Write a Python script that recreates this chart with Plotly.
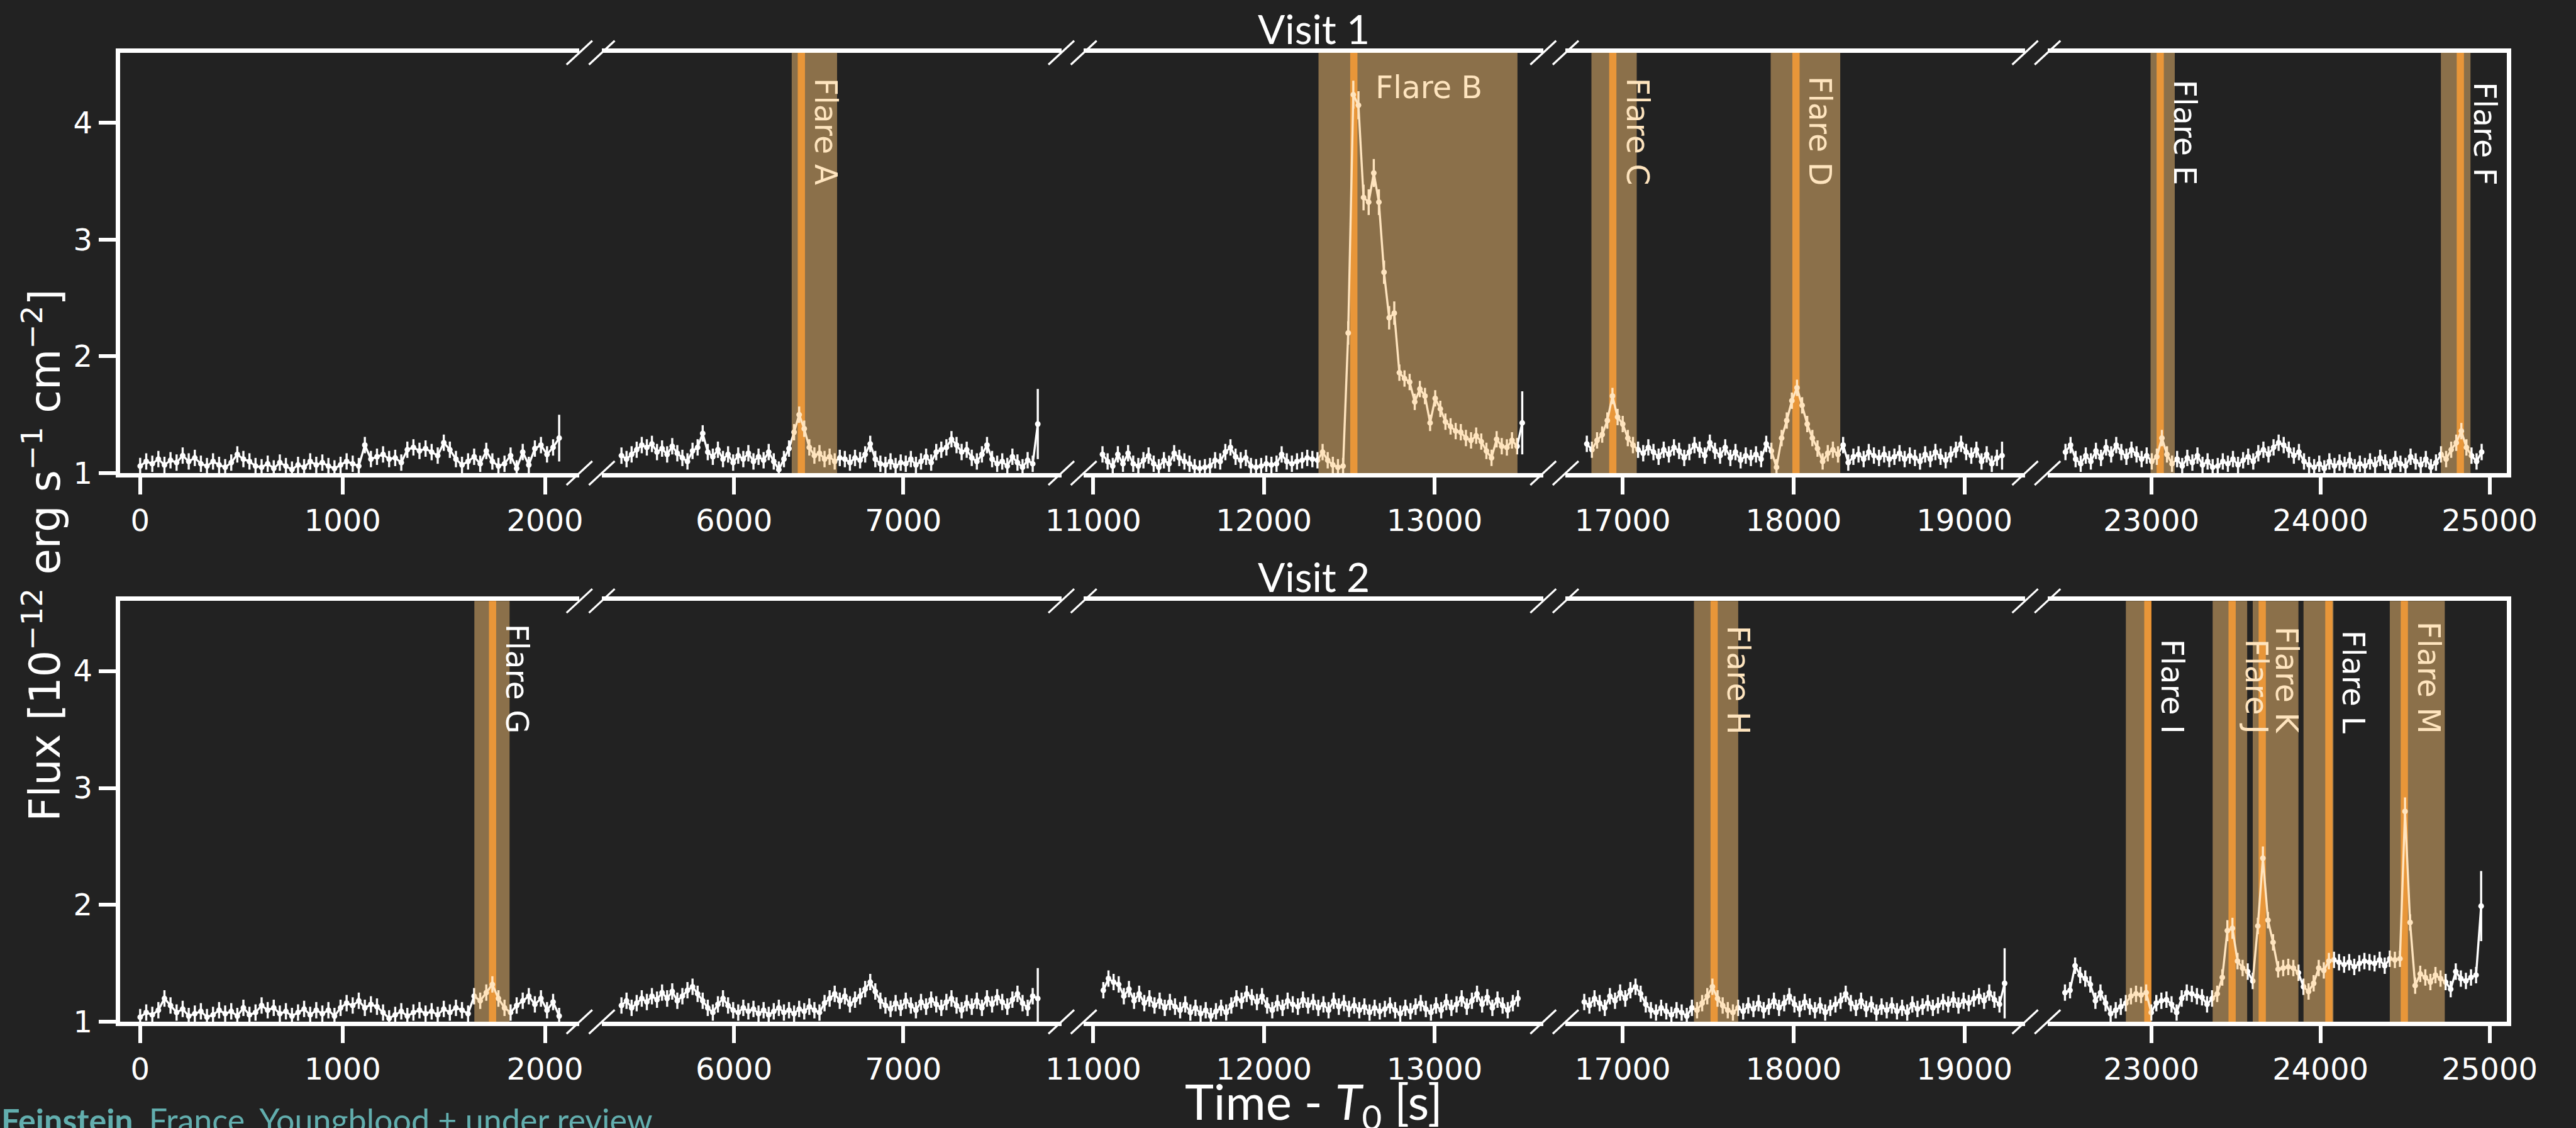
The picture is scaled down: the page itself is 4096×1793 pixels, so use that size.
import plotly.graph_objects as go

# ---------------- figure geometry (reference px, scaled by S) ----------------
W, H = 4096, 1793
S = 0.891
BG = "#222222"

# ---------------- data ----------------
cadence = 30.0

col_ranges = [[-100, 2170], [5219, 7934], [10944, 13637], [16666, 19355], [22387, 25103]]
col_ticks = [[0, 1000, 2000], [6000, 7000], [11000, 12000, 13000],
             [17000, 18000, 19000], [23000, 24000, 25000]]
y_ticks = [1, 2, 3, 4]
visit_titles = ["Visit 1", "Visit 2"]

# Visit 1
v1p1_start = 0
v1p1_flux = [1.06, 1.10, 1.08, 1.12, 1.07, 1.11, 1.09, 1.15, 1.10, 1.13,
             1.08, 1.06, 1.10, 1.07, 1.05, 1.09, 1.16, 1.12, 1.10, 1.06,
             1.05, 1.08, 1.04, 1.09, 1.06, 1.03, 1.07, 1.05, 1.10, 1.07,
             1.09, 1.06, 1.04, 1.07, 1.10, 1.08, 1.06, 1.24, 1.12, 1.14,
             1.16, 1.12, 1.13, 1.09, 1.20, 1.22, 1.19, 1.21, 1.18, 1.15,
             1.26, 1.20, 1.12, 1.07, 1.10, 1.14, 1.08, 1.19, 1.10, 1.06,
             1.08, 1.15, 1.04, 1.18, 1.07, 1.21, 1.24, 1.16, 1.22, 1.30]
v1p1_err_big = {69: 0.20}

v1p2_start = 5335
v1p2_flux = [1.15, 1.12, 1.16, 1.20, 1.24, 1.22, 1.25, 1.18, 1.21, 1.16,
             1.23, 1.17, 1.13, 1.10, 1.19, 1.22, 1.34, 1.18, 1.14, 1.20,
             1.12, 1.16, 1.09, 1.15, 1.12, 1.17, 1.10, 1.14, 1.11, 1.18,
             1.10, 1.03, 1.12, 1.21, 1.35, 1.50, 1.38, 1.22, 1.15, 1.17,
             1.12, 1.14, 1.10, 1.13, 1.12, 1.09, 1.13, 1.11, 1.16, 1.25,
             1.12, 1.08, 1.07, 1.10, 1.06, 1.09, 1.08, 1.12, 1.07, 1.10,
             1.14, 1.09, 1.18, 1.20, 1.22, 1.29, 1.24, 1.18, 1.20, 1.13,
             1.10, 1.16, 1.24, 1.12, 1.08, 1.10, 1.06, 1.14, 1.09, 1.05, 1.11, 1.08, 1.42]
v1p2_err_big = {82: 0.30}

v1p3_start = 11054
v1p3_flux = [1.16, 1.10, 1.06, 1.16, 1.08, 1.17, 1.08, 1.06, 1.11, 1.15,
             1.08, 1.05, 1.11, 1.08, 1.17, 1.13, 1.10, 1.08, 1.05, 1.04,
             1.05, 1.06, 1.11, 1.10, 1.18, 1.22, 1.14, 1.11, 1.13, 1.06,
             1.05, 1.06, 1.08, 1.07, 1.08, 1.16, 1.10, 1.08, 1.10, 1.11,
             1.13, 1.12, 1.11, 1.18, 1.11, 1.07, 1.05,
             1.06, 2.20, 4.24, 4.15, 3.36, 3.32, 3.57, 3.32, 2.72, 2.33,
             2.37, 1.86, 1.81, 1.78, 1.61, 1.72, 1.66, 1.43, 1.64, 1.55,
             1.44, 1.40, 1.36, 1.35, 1.30, 1.28, 1.32, 1.27, 1.19, 1.13,
             1.29, 1.23, 1.22, 1.28, 1.23, 1.43]
v1p3_err_big = {48: 0.10, 49: 0.12, 50: 0.12, 51: 0.11, 52: 0.11, 53: 0.12,
                54: 0.11, 55: 0.10, 56: 0.10, 57: 0.10, 82: 0.27}

v1p4_start = 16790
v1p4_flux = [1.25, 1.20, 1.28, 1.33, 1.45, 1.66, 1.48, 1.42, 1.30, 1.24,
             1.20, 1.17, 1.22, 1.18, 1.14, 1.20, 1.16, 1.22, 1.19, 1.13,
             1.18, 1.24, 1.20, 1.15, 1.26, 1.19, 1.15, 1.22, 1.13, 1.18,
             1.11, 1.15, 1.13, 1.16, 1.12, 1.25, 1.19, 1.05, 1.30, 1.45,
             1.62, 1.73, 1.58, 1.42, 1.30, 1.21, 1.10, 1.17, 1.20, 1.16,
             1.24, 1.09, 1.14, 1.16, 1.12, 1.18, 1.15, 1.13, 1.16, 1.12,
             1.14, 1.17, 1.12, 1.15, 1.13, 1.10, 1.16, 1.12, 1.18, 1.14,
             1.11, 1.16, 1.20, 1.25, 1.18, 1.15, 1.20, 1.10, 1.16, 1.08, 1.13, 1.15]
v1p4_err_big = {81: 0.12}

v1p5_start = 22493
v1p5_flux = [1.18, 1.24, 1.12, 1.08, 1.15, 1.10, 1.19, 1.13, 1.22, 1.16,
             1.24, 1.18, 1.14, 1.20, 1.16, 1.12, 1.15, 1.10, 1.14, 1.30,
             1.16, 1.08, 1.12, 1.06, 1.13, 1.09, 1.15, 1.07, 1.10, 1.05,
             1.06, 1.10, 1.08, 1.12, 1.07, 1.11, 1.14, 1.10, 1.17, 1.20,
             1.16, 1.22, 1.26, 1.24, 1.20, 1.15, 1.18, 1.10, 1.07, 1.05,
             1.08, 1.04, 1.10, 1.06, 1.09, 1.07, 1.11, 1.05, 1.08, 1.06,
             1.10, 1.07, 1.13, 1.09, 1.05, 1.12, 1.08, 1.06, 1.14, 1.10,
             1.07, 1.12, 1.05, 1.09, 1.16, 1.12, 1.20, 1.26, 1.36, 1.22, 1.15, 1.10, 1.18]
v1p5_err_big = {}

# Visit 2
v2p1_start = 0
v2p1_flux = [1.04, 1.08, 1.06, 1.10, 1.20, 1.14, 1.08, 1.11, 1.05, 1.07,
             1.09, 1.04, 1.06, 1.10, 1.07, 1.09, 1.05, 1.12, 1.06, 1.08,
             1.14, 1.10, 1.12, 1.07, 1.09, 1.05, 1.08, 1.11, 1.06, 1.10,
             1.07, 1.10, 1.05, 1.12, 1.16, 1.14, 1.18, 1.12, 1.15, 1.13,
             1.08, 1.03, 1.06, 1.09, 1.05, 1.08, 1.10, 1.07, 1.09, 1.06,
             1.11, 1.08, 1.12, 1.10, 1.07, 1.22, 1.18, 1.25, 1.32, 1.20,
             1.12, 1.08, 1.14, 1.18, 1.22, 1.15, 1.20, 1.10, 1.17, 1.05]
v2p1_err_big = {}

v2p2_start = 5335
v2p2_flux = [1.14, 1.18, 1.12, 1.16, 1.20, 1.17, 1.22, 1.19, 1.25, 1.20,
             1.26, 1.18, 1.22, 1.27, 1.30, 1.24, 1.18, 1.12, 1.08, 1.15,
             1.20, 1.14, 1.10, 1.08, 1.12, 1.09, 1.11, 1.07, 1.10, 1.06,
             1.09, 1.12, 1.08, 1.10, 1.07, 1.11, 1.09, 1.13, 1.10, 1.08,
             1.16, 1.20, 1.24, 1.18, 1.22, 1.15, 1.19, 1.22, 1.28, 1.34,
             1.26, 1.18, 1.14, 1.11, 1.16, 1.12, 1.18, 1.14, 1.10, 1.17,
             1.13, 1.19, 1.15, 1.12, 1.17, 1.20, 1.14, 1.10, 1.16, 1.13,
             1.18, 1.12, 1.20, 1.15, 1.21, 1.17, 1.13, 1.19, 1.24, 1.16, 1.12, 1.22, 1.20]
v2p2_err_big = {82: 0.26}

v2p3_start = 11059
v2p3_flux = [1.27, 1.37, 1.34, 1.32, 1.22, 1.28, 1.18, 1.24, 1.16, 1.20,
             1.14, 1.18, 1.12, 1.17, 1.13, 1.10, 1.15, 1.08, 1.12, 1.07,
             1.10, 1.05, 1.09, 1.12, 1.08, 1.14, 1.20, 1.18, 1.24, 1.21,
             1.17, 1.22, 1.14, 1.10, 1.16, 1.12, 1.18, 1.15, 1.13, 1.19,
             1.14, 1.17, 1.12, 1.15, 1.10, 1.18, 1.13, 1.16, 1.11, 1.14,
             1.10, 1.13, 1.08, 1.12, 1.09, 1.11, 1.14, 1.10, 1.07, 1.12,
             1.09, 1.13, 1.16, 1.11, 1.08, 1.14, 1.10, 1.17, 1.12, 1.15,
             1.20, 1.13, 1.18, 1.24, 1.15, 1.21, 1.12, 1.19, 1.14, 1.10, 1.16, 1.20]
v2p3_err_big = {}

v2p4_start = 16775
v2p4_flux = [1.17, 1.14, 1.20, 1.16, 1.12, 1.22, 1.18, 1.25, 1.20, 1.27,
             1.30, 1.24, 1.15, 1.10, 1.08, 1.12, 1.09, 1.06, 1.10, 1.08,
             1.05, 1.12, 1.10, 1.16, 1.22, 1.30, 1.20, 1.14, 1.10, 1.08,
             1.12, 1.09, 1.14, 1.11, 1.16, 1.10, 1.13, 1.18, 1.12, 1.16,
             1.22, 1.15, 1.11, 1.17, 1.13, 1.10, 1.14, 1.08, 1.12, 1.15,
             1.18, 1.24, 1.16, 1.12, 1.18, 1.11, 1.15, 1.08, 1.13, 1.10,
             1.14, 1.09, 1.12, 1.08, 1.15, 1.11, 1.13, 1.16, 1.12, 1.14,
             1.17, 1.15, 1.19, 1.14, 1.18, 1.16, 1.20, 1.22, 1.18, 1.25, 1.19, 1.15, 1.33]
v2p4_err_big = {82: 0.30}

v2p5_start = 22490
v2p5_flux = [1.25, 1.27, 1.48, 1.40, 1.37, 1.32, 1.18, 1.25, 1.16, 1.07,
             1.10, 1.13, 1.16, 1.22, 1.24, 1.23, 1.25, 1.08, 1.16, 1.18,
             1.19, 1.15, 1.08, 1.20, 1.25, 1.24, 1.22, 1.21, 1.15, 1.20,
             1.24, 1.38, 1.78, 1.80, 1.52, 1.46, 1.43, 1.35, 1.82, 2.40,
             1.87, 1.68, 1.45, 1.46, 1.47, 1.46, 1.42, 1.30, 1.26, 1.33,
             1.46, 1.44, 1.52, 1.53, 1.51, 1.49, 1.51, 1.47, 1.50, 1.52,
             1.51, 1.50, 1.53, 1.48, 1.54, 1.53, 1.54, 2.80, 1.85, 1.31,
             1.41, 1.38, 1.34, 1.40, 1.37, 1.34, 1.28, 1.43, 1.37, 1.35, 1.38, 1.40, 1.99]
v2p5_err_big = {32: 0.09, 33: 0.09, 39: 0.10, 67: 0.12, 82: 0.30}

base_err = 0.07

panels = [
    (v1p1_start, v1p1_flux, v1p1_err_big), (v1p2_start, v1p2_flux, v1p2_err_big),
    (v1p3_start, v1p3_flux, v1p3_err_big), (v1p4_start, v1p4_flux, v1p4_err_big),
    (v1p5_start, v1p5_flux, v1p5_err_big),
    (v2p1_start, v2p1_flux, v2p1_err_big), (v2p2_start, v2p2_flux, v2p2_err_big),
    (v2p3_start, v2p3_flux, v2p3_err_big), (v2p4_start, v2p4_flux, v2p4_err_big),
    (v2p5_start, v2p5_flux, v2p5_err_big),
]

# flares: name, visit, column, band start, band end, peak time
flare_names = ["A", "B", "C", "D", "E", "F", "G", "H", "I", "J", "K", "L", "M"]
flare_visit = [0, 0, 0, 0, 0, 0, 1, 1, 1, 1, 1, 1, 1]
flare_col = [1, 2, 3, 3, 4, 4, 0, 3, 4, 4, 4, 4, 4]
flare_start = [6341, 12320, 16817, 17866, 22996, 24712, 1651, 17417, 22850, 23363, 23600, 23900, 24410]
flare_end = [6609, 13486, 17082, 18273, 23139, 24887, 1825, 17676, 23000, 23567, 23870, 24077, 24735]
flare_peak = [6398, 12527, 16942, 18014, 23053, 24827, 1741, 17535, 22980, 23478, 23656, 24050, 24496]
flare_label_in_band = [True, True, True, True, False, False, False, True, False, True, True, False, True]

# ---------------- layout helpers ----------------
AX_LEFT = 214
PW = 820
GAP = 40
ROW_TOP = [94, 1072]
ROW_BOT = [844, 1823]

def xdom(c):
    x0 = (AX_LEFT + c * (PW + GAP)) * S
    return [x0 / W, (x0 + PW * S) / W]

def ydom(r):
    return [1 - ROW_BOT[r] * S / H, 1 - ROW_TOP[r] * S / H]

TICK_FONT = dict(family="DejaVu Sans", size=48, color="white")
LW = 7
TL = 27

fig = go.Figure()
layout = dict(
    width=W, height=H, margin=dict(l=0, r=0, t=0, b=0, pad=0, autoexpand=False),
    paper_bgcolor=BG, plot_bgcolor=BG, showlegend=False,
)

for idx, (start, flux, big) in enumerate(panels):
    r, c = divmod(idx, 5)
    n = idx + 1
    xname = "x" if n == 1 else f"x{n}"
    yname = "y" if n == 1 else f"y{n}"
    t = [start + cadence * k for k in range(len(flux))]
    err = [big.get(k, base_err) for k in range(len(flux))]
    fig.add_trace(go.Scatter(
        x=t, y=flux, mode="lines+markers", xaxis=xname, yaxis=yname,
        line=dict(color="white", width=3.4),
        marker=dict(size=9, color="white"),
        error_y=dict(type="data", array=err, visible=True, color="white", thickness=3.4, width=0),
        hoverinfo="skip",
    ))
    xa = dict(domain=xdom(c), range=col_ranges[c], anchor=yname,
              tickvals=col_ticks[c], ticktext=[str(v) for v in col_ticks[c]],
              ticks="outside", ticklen=TL, tickwidth=6, tickcolor="white",
              showline=True, linecolor="white", linewidth=LW, mirror=True,
              showgrid=False, zeroline=False, tickfont=TICK_FONT, automargin=False)
    ya = dict(domain=ydom(r), range=[1, 4.6], anchor=xname, showgrid=False, zeroline=False,
              automargin=False)
    if c == 0:
        ya.update(tickvals=y_ticks, ticktext=[str(v) for v in y_ticks], ticks="outside",
                  ticklen=TL, tickwidth=6, tickcolor="white", showline=True,
                  linecolor="white", linewidth=LW, tickfont=TICK_FONT)
    elif c == 4:
        ya.update(side="right", showline=True, linecolor="white", linewidth=LW,
                  ticks="", showticklabels=False)
    else:
        ya.update(showline=False, ticks="", showticklabels=False)
    layout["xaxis" if n == 1 else f"xaxis{n}"] = xa
    layout["yaxis" if n == 1 else f"yaxis{n}"] = ya

shapes = []
annotations = []

# flare bands, peak lines, labels
BAND = "rgba(255,199,119,0.48)"
LINE = "rgb(212,106,0)"
CREAM = "#FEE4BE"
for i, name in enumerate(flare_names):
    n = flare_visit[i] * 5 + flare_col[i] + 1
    xr = "x" if n == 1 else f"x{n}"
    yr = "y" if n == 1 else f"y{n}"
    shapes.append(dict(type="line", xref=xr, yref=f"{yr} domain", x0=flare_peak[i], x1=flare_peak[i],
                       y0=0, y1=1, line=dict(color=LINE, width=11.5), layer="below"))
    shapes.append(dict(type="rect", xref=xr, yref=f"{yr} domain", x0=flare_start[i], x1=flare_end[i],
                       y0=0, y1=1, fillcolor=BAND, line=dict(width=0), layer="above"))
    col = CREAM if flare_label_in_band[i] else "white"
    if name == "B":
        annotations.append(dict(xref=xr, yref=yr, x=flare_peak[i], y=4.30, text=f"Flare {name}",
                                showarrow=False, xanchor="left", yanchor="middle", xshift=32,
                                font=dict(family="DejaVu Sans", size=49, color=col)))
    else:
        annotations.append(dict(xref=xr, yref=yr, x=flare_peak[i], y=3.45, text=f"Flare {name}",
                                showarrow=False, textangle=90, xanchor="left", yanchor="bottom",
                                xshift=8, font=dict(family="DejaVu Sans", size=49, color=col)))

# break marks "//" at every inner panel edge, on top and bottom spines
DX, DY = 20.5, 19.0
for r in range(2):
    for c in range(4):
        right_edge = (AX_LEFT + c * (PW + GAP) + PW) * S
        left_edge = (AX_LEFT + (c + 1) * (PW + GAP)) * S
        for ex in (right_edge, left_edge):
            for ey in (ROW_TOP[r] * S, ROW_BOT[r] * S):
                shapes.append(dict(type="line", xref="paper", yref="paper",
                                   x0=(ex - DX) / W, y0=1 - (ey + DY) / H,
                                   x1=(ex + DX) / W, y1=1 - (ey - DY) / H,
                                   line=dict(color="white", width=3.2), layer="above"))

# titles
mid_x = ((AX_LEFT + (AX_LEFT + 5 * PW + 4 * GAP)) / 2) * S / W
TITLE_FONT = dict(family="Lato", size=64, color="white")
for r, title in enumerate(visit_titles):
    annotations.append(dict(xref="paper", yref="paper", x=mid_x, y=1 - (ROW_TOP[r] - 43) * S / H,
                            text=title, showarrow=False, xanchor="center", yanchor="middle",
                            font=TITLE_FONT))

annotations.append(dict(xref="paper", yref="paper", x=mid_x, y=1 - (1957 * S + 12) / H,
                        text="Time - <i>T</i><sub>0</sub> [s]", showarrow=False,
                        xanchor="center", yanchor="middle",
                        font=dict(family="Lato", size=78, color="white")))

annotations.append(dict(xref="paper", yref="paper", x=75 * S / W, y=1 - 991 * S / H,
                        text="Flux [10<sup>−12</sup> erg s<sup>−1</sup> cm<sup>−2</sup>]",
                        showarrow=False, textangle=-90, xanchor="center", yanchor="middle",
                        font=dict(family="DejaVu Sans", size=67, color="white")))

annotations.append(dict(xref="paper", yref="paper", x=0, y=1 - 1747 / H,
                        text="<b>Feinstein</b>, France, Youngblood + under review",
                        showarrow=False, xanchor="left", yanchor="top",
                        font=dict(family="Lato", size=52, color="#62AEAE")))

layout["shapes"] = shapes
layout["annotations"] = annotations
fig.update_layout(**layout)

fig.write_html("out.html", config={"displayModeBar": False},
               post_script="document.body.style.margin='0';document.body.style.background='#222222';")
